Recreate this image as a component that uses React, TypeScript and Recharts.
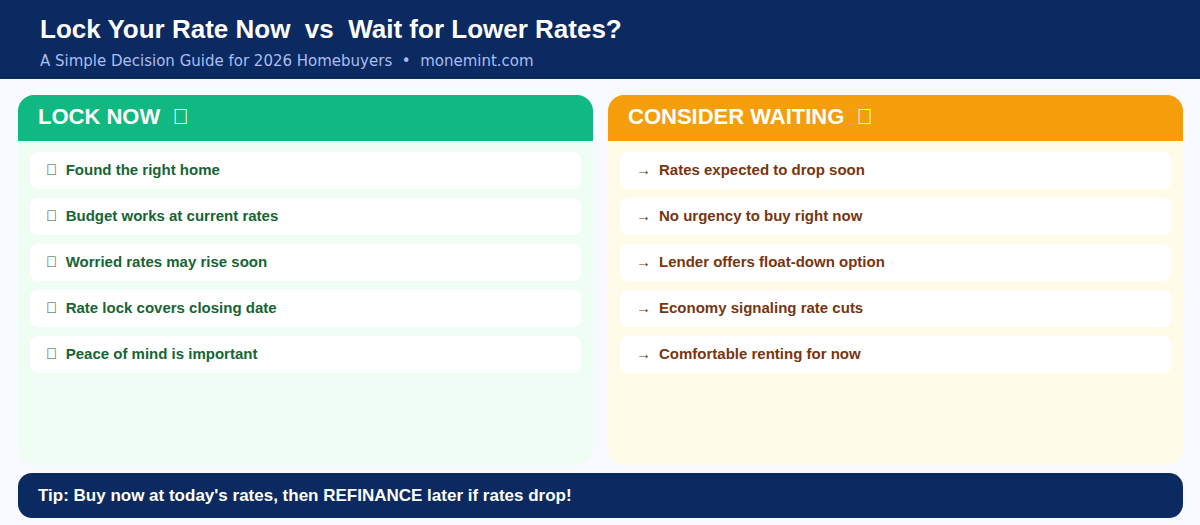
import React from 'react';
import { BarChart, Bar, XAxis, YAxis, LabelList } from 'recharts';

const TITLE = 'Lock Your Rate Now  vs  Wait for Lower Rates?';
const SUBTITLE = 'A Simple Decision Guide for 2026 Homebuyers  •  monemint.com';
const TIP = "Tip: Buy now at today's rates, then REFINANCE later if rates drop!";

const LOCK_HEADING = 'LOCK NOW';
const WAIT_HEADING = 'CONSIDER WAITING';

// the reference shows empty boxes where its icons failed to load
const BOX_ICON = '\uE000';
const ARROW_ICON = '→';

const lockReasons = [
  'Found the right home',
  'Budget works at current rates',
  'Worried rates may rise soon',
  'Rate lock covers closing date',
  'Peace of mind is important',
];
const waitReasons = [
  'Rates expected to drop soon',
  'No urgency to buy right now',
  'Lender offers float-down option',
  'Economy signaling rate cuts',
  'Comfortable renting for now',
];
// every row card runs the full panel width
const rowValues = [1, 1, 1, 1, 1];

const NAVY = '#0b2a61';
const SANS = '"Liberation Sans", Arial, sans-serif';
const DEJAVU = '"DejaVu Sans", sans-serif';

interface PanelProps {
  left: number;
  heading: string;
  reasons: string[];
  icon: string;
  textX: number;
  headColor: string;
  bodyColor: string;
  textColor: string;
}

const Panel: React.FC<PanelProps> = ({ left, heading, reasons, icon, textX, headColor, bodyColor, textColor }) => {
  const data = reasons.map((reason, i) => ({ reason, value: rowValues[i] }));
  return (
    <div style={{ position: 'absolute', left, top: 95, width: 575, height: 370, background: bodyColor, borderRadius: 16 }}>
      <div
        style={{
          height: 46,
          lineHeight: '44px',
          paddingLeft: 20,
          background: headColor,
          borderRadius: '16px 16px 0 0',
          color: '#fff',
          fontFamily: SANS,
          fontWeight: 700,
          fontSize: 22,
          whiteSpace: 'pre',
        }}
      >
        <span>{heading}</span>
        <span style={{ marginLeft: 12.2 }}>{BOX_ICON}</span>
      </div>
      <div style={{ position: 'absolute', left: 12, top: 52 }}>
        <BarChart width={551} height={230} data={data} layout="vertical" margin={{ top: 0, right: 0, bottom: 0, left: 0 }}>
          <XAxis type="number" domain={[0, 1]} hide />
          <YAxis type="category" dataKey="reason" hide />
          <Bar dataKey="value" fill="#ffffff" barSize={37} radius={8} isAnimationActive={false}>
            <LabelList
              dataKey="reason"
              content={(props: any) => {
                const y = props.y + props.height / 2 + 4;
                return (
                  <g fill={textColor} fontFamily={SANS} fontWeight={700} fontSize={15}>
                    <text x={props.x + 16} y={y}>
                      {icon}
                    </text>
                    <text x={props.x + textX} y={y}>
                      {props.value}
                    </text>
                  </g>
                );
              }}
            />
          </Bar>
        </BarChart>
      </div>
    </div>
  );
};

export default function App() {
  return (
    <div style={{ position: 'fixed', left: 0, top: 0, width: 1200, height: 525, background: '#f8faff', overflow: 'hidden' }}>
      <div style={{ position: 'absolute', left: 0, top: 0, width: 1200, height: 79, background: NAVY }}>
        <div style={{ position: 'absolute', left: 40, top: 14, color: '#fff', fontFamily: SANS, fontWeight: 700, fontSize: 26, lineHeight: '30px', whiteSpace: 'pre' }}>
          {TITLE}
        </div>
        <div style={{ position: 'absolute', left: 40, top: 52, color: '#aabdf0', fontFamily: DEJAVU, fontSize: 15, lineHeight: '18px', whiteSpace: 'pre' }}>
          {SUBTITLE}
        </div>
      </div>
      <Panel left={18} heading={LOCK_HEADING} reasons={lockReasons} icon={BOX_ICON} textX={35.7} headColor="#10b981" bodyColor="#f0fdf4" textColor="#166534" />
      <Panel left={608} heading={WAIT_HEADING} reasons={waitReasons} icon={ARROW_ICON} textX={39} headColor="#f59e0b" bodyColor="#fefce8" textColor="#78350f" />
      <div
        style={{
          position: 'absolute',
          left: 18,
          top: 473,
          width: 1165,
          height: 45,
          lineHeight: '45px',
          paddingLeft: 20,
          boxSizing: 'border-box',
          background: NAVY,
          borderRadius: 14,
          color: '#fff',
          fontFamily: SANS,
          fontWeight: 700,
          fontSize: 17,
          whiteSpace: 'pre',
        }}
      >
        {TIP}
      </div>
    </div>
  );
}
